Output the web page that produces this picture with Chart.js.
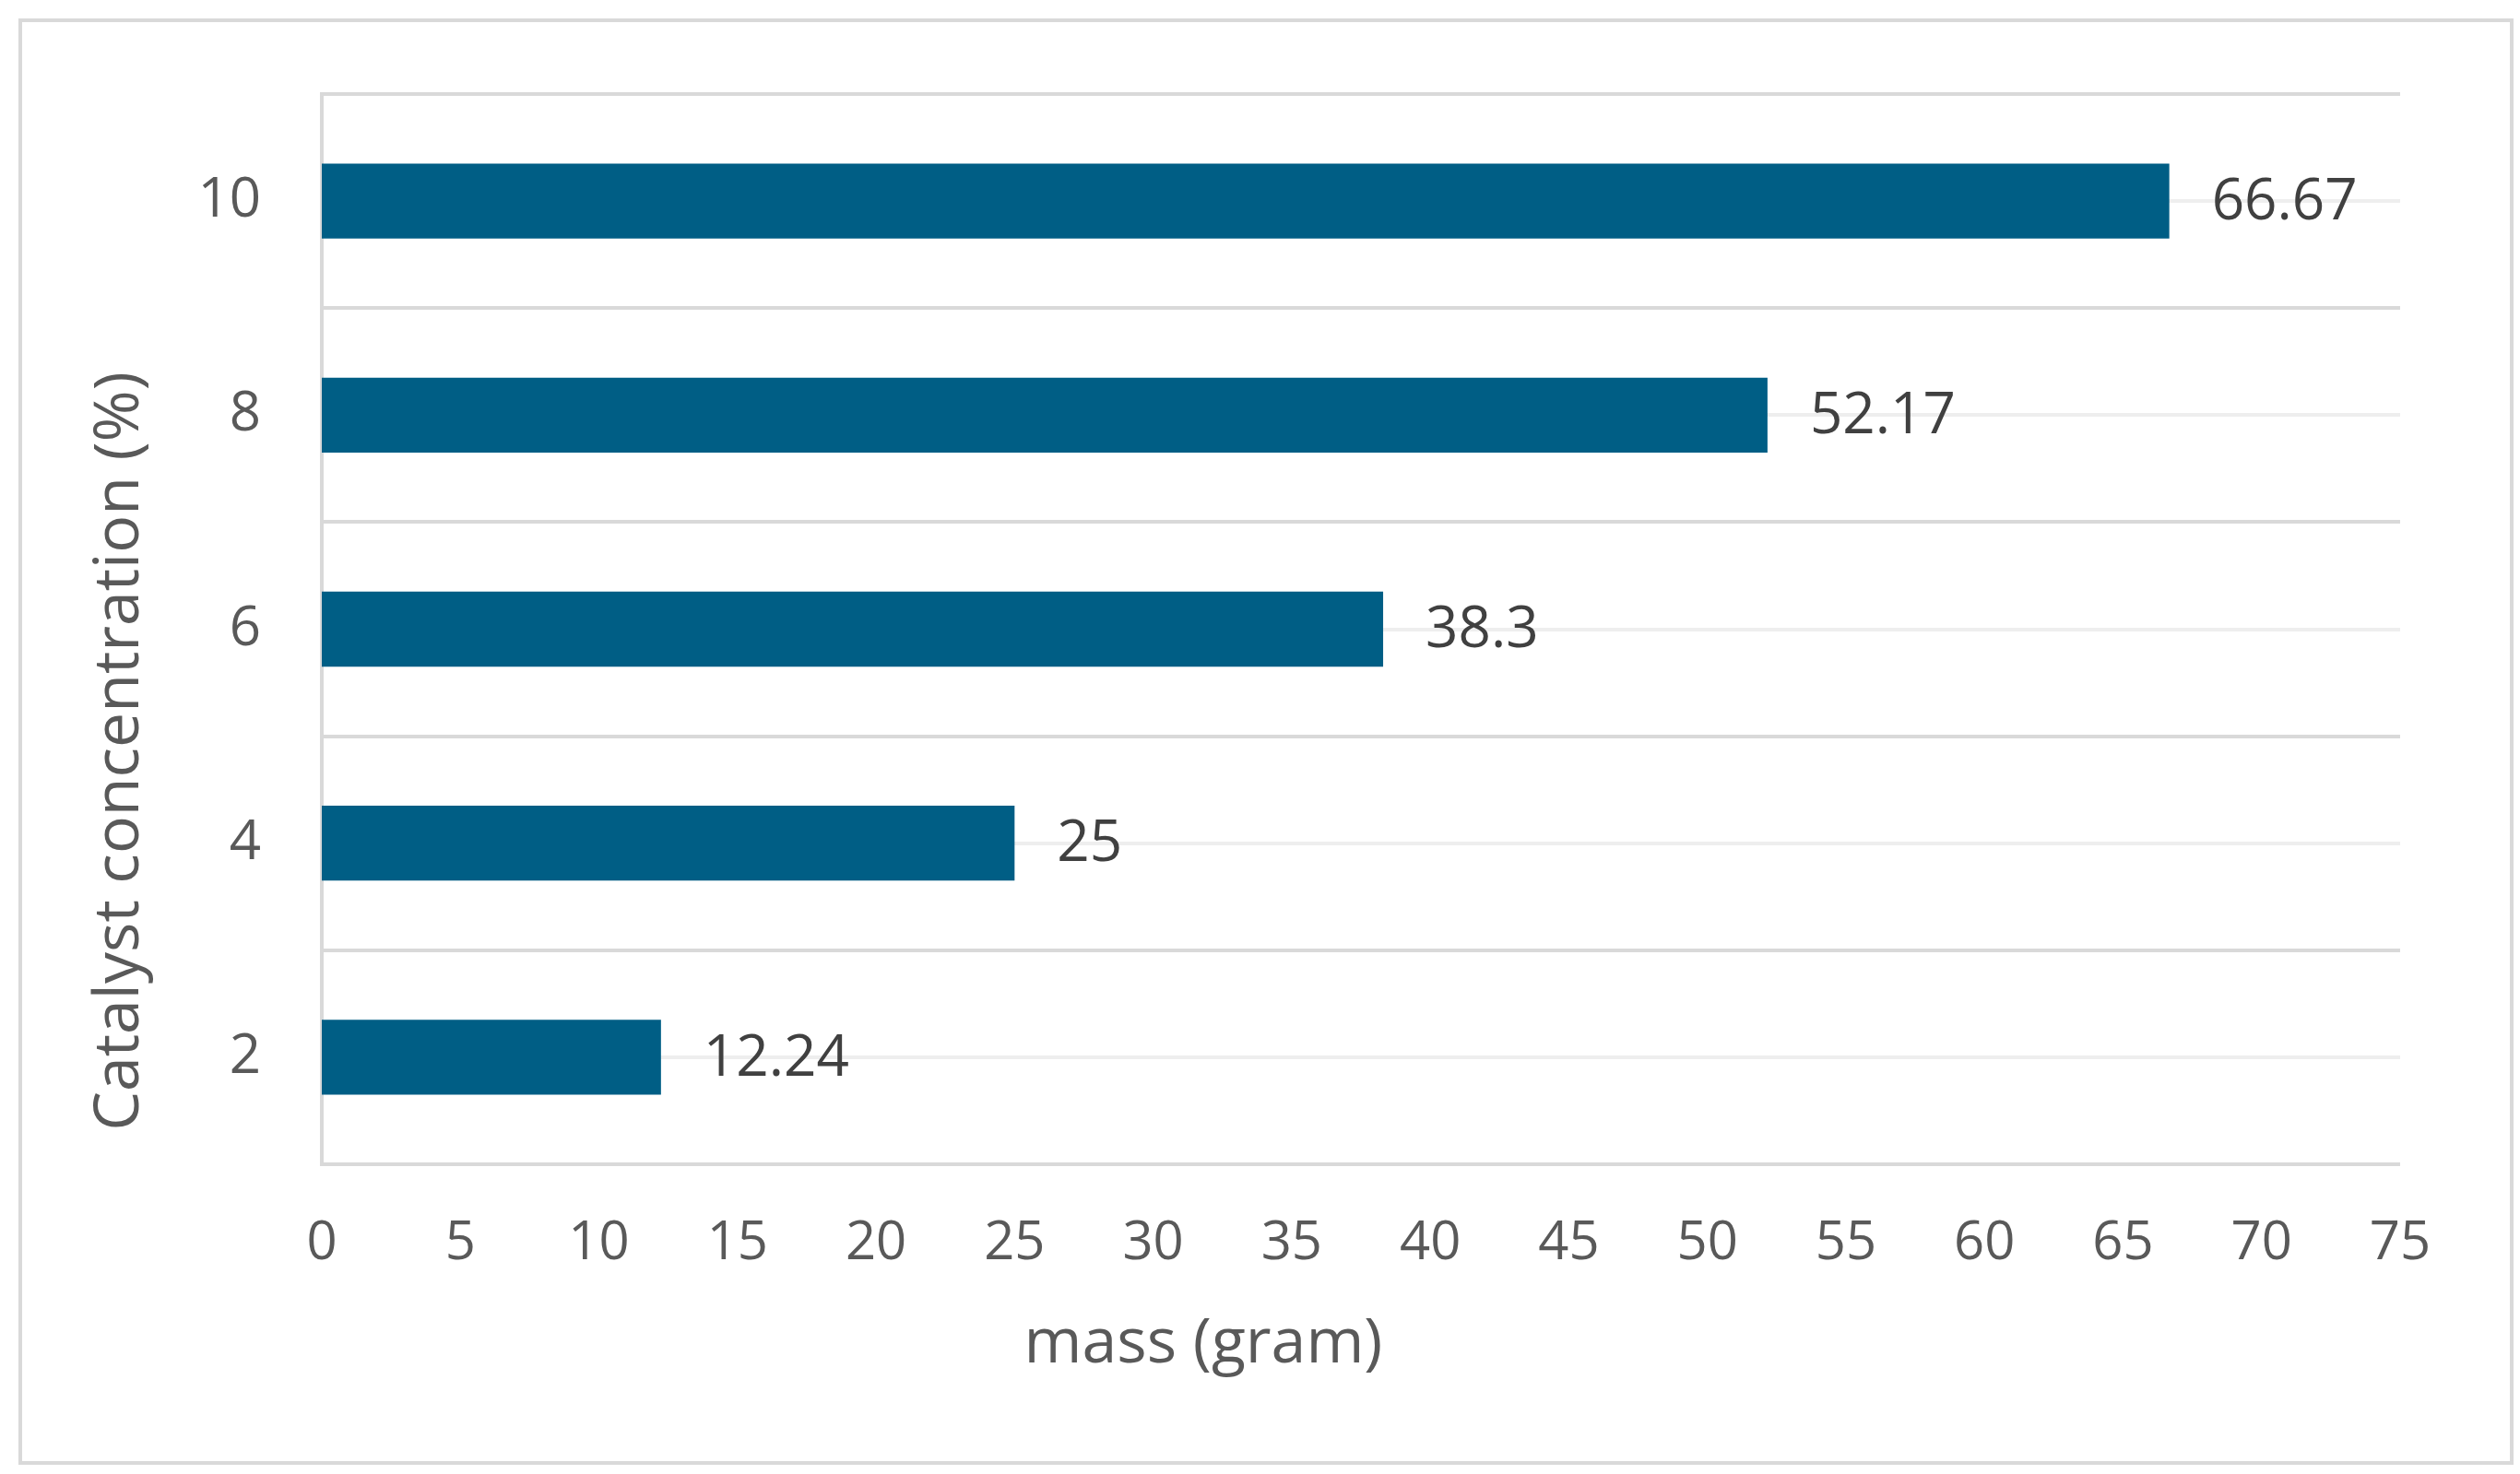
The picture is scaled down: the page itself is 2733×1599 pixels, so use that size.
<!DOCTYPE html>
<html>
<head>
<meta charset="utf-8">
<script src="https://cdn.jsdelivr.net/npm/chart.js@4.4.1/dist/chart.umd.min.js"></script>
<style>
  html, body { margin: 0; padding: 0; background: #ffffff; }
  #wrap { position: relative; width: 2733px; height: 1599px; }
  #frame {
    position: absolute; left: 20px; top: 20px; width: 2698px; height: 1561px;
    border: 4px solid #d9d9d9; pointer-events: none;
  }
  canvas { position: absolute; left: 0; top: 0; }
</style>
</head>
<body>
<div id="wrap">
  <canvas id="chart" width="2733" height="1599"></canvas>
  <div id="frame"></div>
</div>
<script>
// Data
const categories = ['2', '4', '6', '8', '10'];
const massValues = [12.24, 25, 38.3, 52.17, 66.67];
const xTicks = [0, 5, 10, 15, 20, 25, 30, 35, 40, 45, 50, 55, 60, 65, 70, 75];
const xTitle = 'mass (gram)';
const yTitle = 'Catalyst concentration (%)';

const FONT = "'Open Sans', 'Liberation Sans', sans-serif";

// value labels to the right of each bar
const valueLabels = {
    id: 'valueLabels',
    afterDatasetsDraw(chart) {
        const ctx = chart.ctx;
        const meta = chart.getDatasetMeta(0);
        ctx.save();
        ctx.font = '62px ' + FONT;
        ctx.fillStyle = '#404040';
        ctx.textAlign = 'left';
        ctx.textBaseline = 'middle';
        meta.data.forEach(function(bar, i) {
            ctx.fillText(String(massValues[i]), bar.x + 46, bar.y + 2);
        });
        ctx.restore();
    }
};

// axis titles, placed where the original has them
const axisTitles = {
    id: 'axisTitles',
    afterDraw(chart) {
        const ctx = chart.ctx;
        ctx.save();
        ctx.font = '68px ' + FONT;
        ctx.fillStyle = '#595959';
        ctx.textAlign = 'center';
        ctx.textBaseline = 'middle';
        ctx.fillText(xTitle, 1305, 1459);
        ctx.translate(131, 815);
        ctx.rotate(-Math.PI / 2);
        ctx.fillText(yTitle, 0, 0);
        ctx.restore();
    }
};

const ctx = document.getElementById('chart').getContext('2d');
const massChart = new Chart(ctx, {
    type: 'bar',
    data: {
        labels: categories,
        datasets: [{
            data: massValues,
            backgroundColor: '#005E85',
            borderWidth: 0,
            barPercentage: 0.35,
            categoryPercentage: 1.0
        }]
    },
    options: {
        indexAxis: 'y',
        responsive: false,
        animation: false,
        devicePixelRatio: 1,
        layout: {
            padding: { left: 0, top: 98, right: 130, bottom: 0 }
        },
        plugins: {
            legend: { display: false },
            tooltip: { enabled: false }
        },
        scales: {
            x: {
                type: 'linear',
                min: 0,
                max: 75,
                afterBuildTicks: function(scale) {
                    scale.ticks = xTicks.map(v => ({ value: v }));
                },
                afterFit: function(scale) { scale.height = 336; },
                grid: { display: false, drawTicks: false },
                border: { display: false },
                ticks: {
                    color: '#595959',
                    font: { family: FONT, size: 58 },
                    padding: 52,
                    maxRotation: 0,
                    autoSkip: false
                }
            },
            y: {
                type: 'category',
                reverse: true,
                afterFit: function(scale) { scale.width = 349; },
                grid: {
                    offset: true,
                    color: '#d9d9d9',
                    lineWidth: 4,
                    drawTicks: false
                },
                border: { display: true, color: '#d9d9d9', width: 4 },
                ticks: {
                    color: '#595959',
                    font: { family: FONT, size: 60 },
                    padding: 66
                }
            },
            y2: {
                type: 'category',
                position: 'right',
                reverse: true,
                afterFit: function(scale) { scale.width = 0; },
                grid: {
                    offset: false,
                    color: '#eeeeee',
                    lineWidth: 4,
                    drawTicks: false
                },
                border: { display: false },
                ticks: { display: false }
            }
        }
    },
    plugins: [valueLabels, axisTitles]
});
</script>
</body>
</html>
